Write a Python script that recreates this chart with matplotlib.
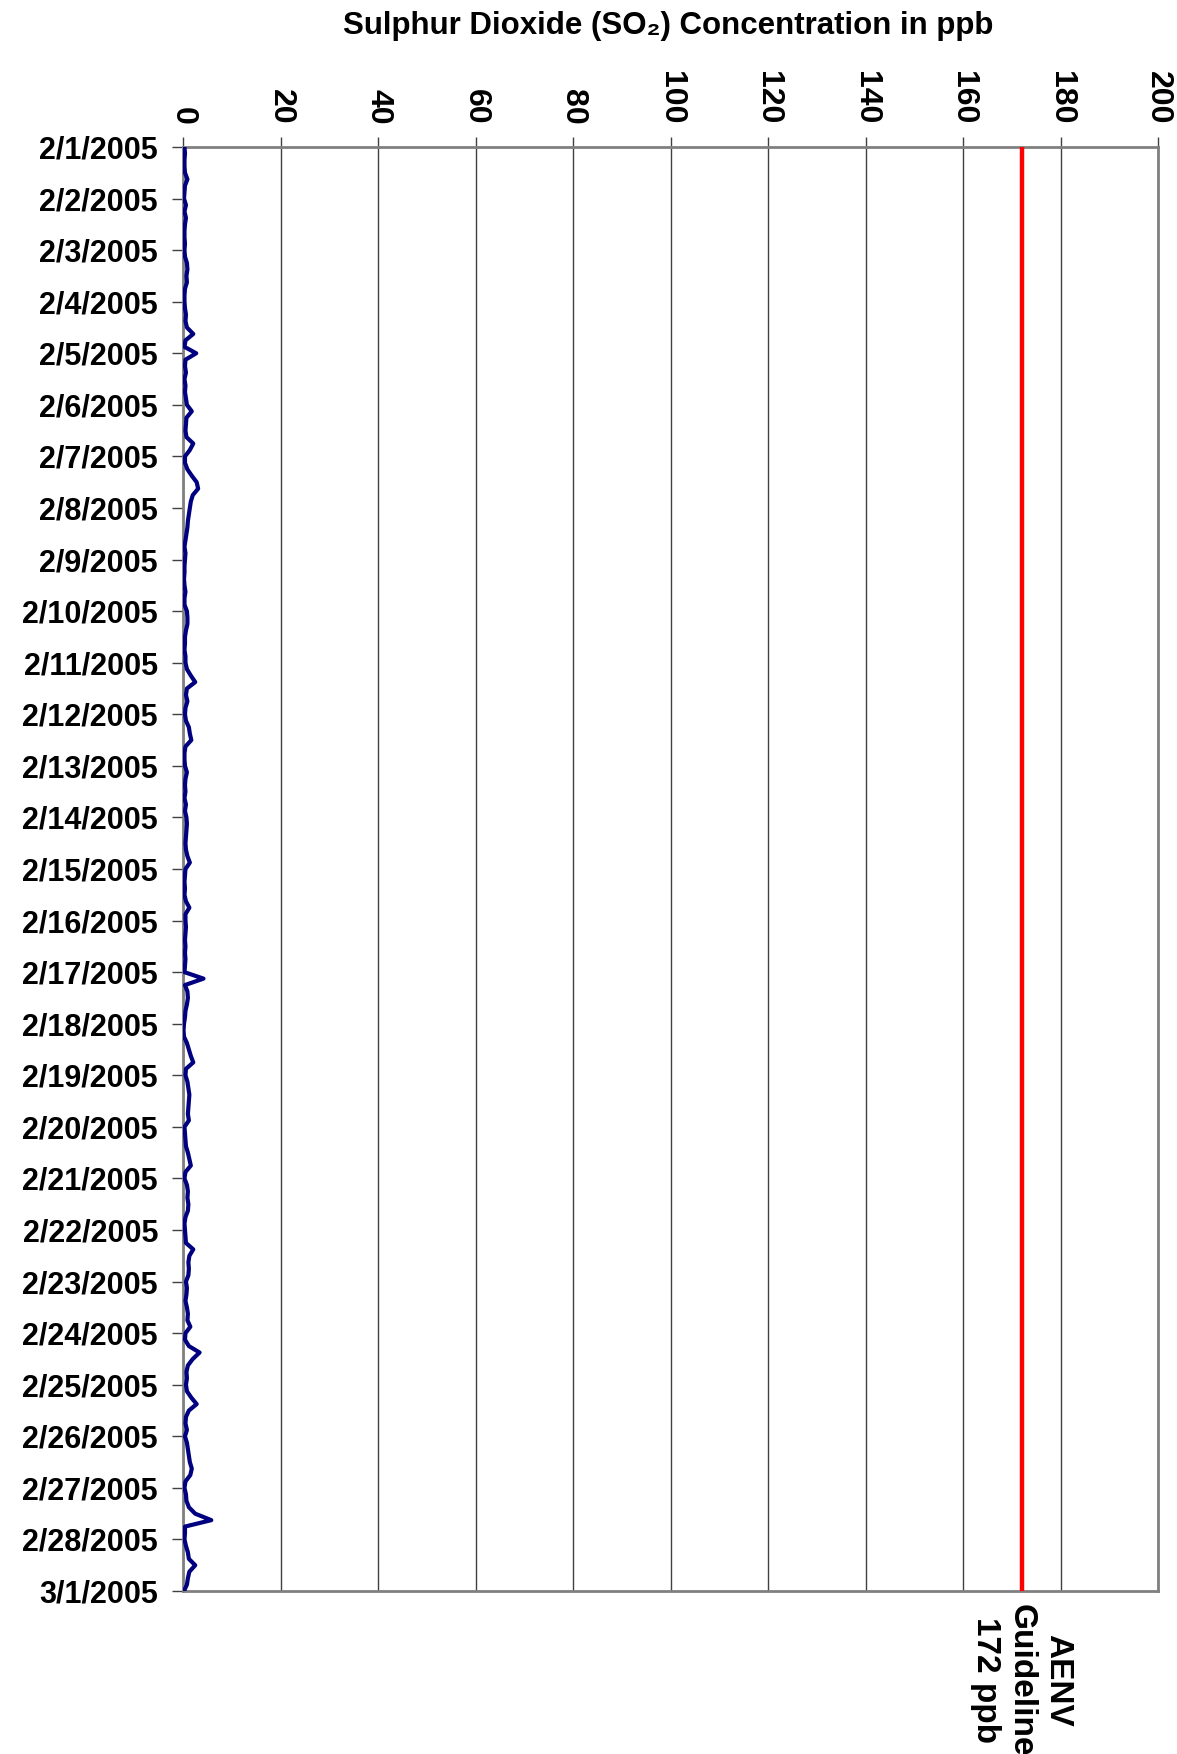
import matplotlib
matplotlib.use('Agg')
import matplotlib.pyplot as plt
import matplotlib.transforms as mtransforms
import pandas as pd

plt.rcParams['font.family'] = ['Liberation Sans', 'DejaVu Sans']
plt.rcParams['font.weight'] = 'bold'

# SO2 readings in ppb, every 3 hours, one row per day (2/1 .. 2/28) plus the closing value on 3/1
so2_by_day = [
    [0.3, 0.4, 0.3, 0.3, 0.4, 0.9, 0.4, 0.3],
    [0.2, 0.6, 0.3, 0.6, 0.4, 0.3, 0.3, 0.4],
    [0.3, 0.4, 0.8, 0.9, 0.7, 0.8, 0.4, 0.3],
    [0.3, 0.4, 0.6, 0.5, 0.8, 2.1, 0.5, 0.3],
    [2.7, 0.5, 0.4, 0.6, 0.3, 0.5, 0.4, 0.6],
    [0.8, 1.8, 0.7, 0.6, 0.5, 0.7, 2.1, 1.4],
    [0.4, 0.4, 0.9, 1.8, 2.8, 3.1, 2.0, 1.6],
    [1.4, 1.2, 1.0, 0.9, 0.7, 0.5, 0.3, 0.5],
    [0.4, 0.3, 0.3, 0.2, 0.3, 0.5, 0.3, 0.3],
    [0.8, 0.9, 0.9, 0.6, 0.4, 0.4, 0.3, 0.5],
    [0.5, 0.8, 1.6, 2.5, 0.8, 0.6, 0.9, 0.5],
    [0.4, 0.6, 1.2, 1.4, 1.7, 0.5, 0.3, 0.3],
    [0.4, 0.8, 0.5, 0.4, 0.5, 0.3, 0.6, 0.4],
    [0.7, 0.8, 0.7, 0.6, 0.5, 0.6, 0.9, 1.4],
    [0.5, 0.4, 0.3, 0.4, 0.3, 0.6, 1.3, 0.5],
    [0.5, 0.6, 0.5, 0.4, 0.5, 0.4, 0.5, 0.4],
    [0.3, 4.2, 0.4, 0.9, 1.0, 0.8, 0.5, 0.4],
    [0.2, 0.1, 0.2, 0.8, 1.2, 1.6, 2.1, 0.6],
    [0.5, 0.9, 1.1, 1.3, 1.2, 1.1, 1.0, 1.2],
    [0.3, 0.4, 0.5, 0.6, 1.0, 1.3, 1.6, 0.5],
    [0.3, 0.8, 1.0, 0.9, 1.1, 1.0, 0.5, 0.3],
    [0.4, 0.5, 0.6, 2.1, 1.3, 1.1, 1.2, 1.1],
    [0.6, 0.8, 0.7, 0.5, 0.8, 1.0, 0.9, 1.5],
    [0.5, 0.4, 1.2, 3.4, 2.0, 1.0, 0.7, 0.8],
    [0.6, 0.8, 1.7, 2.8, 1.2, 0.6, 0.5, 0.8],
    [0.4, 0.8, 1.0, 1.2, 1.4, 1.8, 1.5, 0.5],
    [0.3, 0.6, 0.7, 1.2, 2.5, 5.8, 0.4, 0.4],
    [0.3, 0.6, 1.0, 1.2, 2.5, 1.3, 1.0, 0.8],
]
so2_last = 0.2
so2 = [v for day in so2_by_day for v in day] + [so2_last]
times = pd.date_range('2005-02-01', periods=len(so2), freq='3h')

guideline = 172
guideline_label = 'AENV\nGuideline\n172 ppb'
date_ticks = pd.date_range('2005-02-01', '2005-03-01', freq='D')
date_labels = [f'{d.month}/{d.day}/{d.year}' for d in date_ticks]
ppb_ticks = list(range(0, 201, 20))

fig = plt.figure(figsize=(11.77, 17.54), dpi=100)
ax = fig.add_axes([0.1555, 0.0929, 0.8284, 0.8233])

ax.plot(so2, times, color='#000080', lw=3, zorder=3)
ax.axvline(guideline, color='#ff0000', lw=3.2, zorder=4)

ax.set_xlim(0, 200)
ax.set_ylim(date_ticks[-1], date_ticks[0])

ax.xaxis.tick_top()
ax.set_xticks(ppb_ticks)
ax.set_xticklabels([str(t) for t in ppb_ticks], rotation=-90, fontsize=23,
                   fontweight='bold', va='bottom', ha='center')
ax.set_yticks(date_ticks)
ax.set_yticklabels(date_labels, fontsize=22, fontweight='bold')
ax.tick_params(axis='x', length=7, width=1, pad=9, color='#404040')
ax.tick_params(axis='y', length=8, width=1, pad=10, color='#404040')

ax.grid(axis='x', color='#404040', lw=1)
ax.set_axisbelow(True)
for s in ax.spines.values():
    s.set_color('#808080')
    s.set_linewidth(2)

fig.text(0.568, 0.985, 'Sulphur Dioxide (SO\u2082) Concentration in ppb',
         ha='center', va='center', fontsize=22.5, fontweight='bold')

trans = mtransforms.blended_transform_factory(ax.transData, fig.transFigure)
ax.text(guideline, 0.042, guideline_label, transform=trans, rotation=-90,
        ha='center', va='center', multialignment='center', fontsize=24,
        fontweight='bold', linespacing=1.2)

fig.savefig('out.png', dpi=100)
